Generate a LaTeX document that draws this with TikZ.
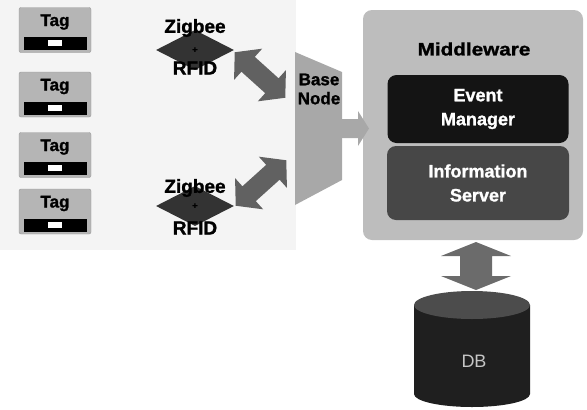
\documentclass[tikz,border=0pt]{standalone}
\usepackage{fontspec}
\setmainfont{Liberation Sans}[BoldFeatures={FakeBold=1.2}]
\usetikzlibrary{shapes.geometric}
\begin{document}
\begin{tikzpicture}[x=1pt,y=-1pt,
  lbl/.style={font=\fontsize{18}{19}\selectfont\bfseries, inner sep=0pt},
  whitelbl/.style={font=\fontsize{18}{24}\selectfont\bfseries, text=white, align=center, inner sep=0pt},
  tagbox/.style={draw=gray!80, fill=gray!58, rounded corners=2pt,
    minimum width=72pt, minimum height=45pt, inner sep=0pt},
  radio/.style={diamond, aspect=1.9, fill=black!80, minimum width=78pt,
    minimum height=40pt, inner sep=0pt},
  arrowfill/.style={fill=black!62},
  panel/.style={rounded corners=9pt, inner sep=0pt}]
\useasboundingbox (0,0) rectangle (587,410);

% sensing area behind the tags
\fill[gray!9] (0,0) rectangle (296,250);

% tags
\foreach \i/\y in {1/30,2/94.5,3/155,4/211.5}{
  \node[tagbox] (tag\i) at (55,\y) {};
  \node[lbl, font=\fontsize{17}{19}\selectfont\bfseries] at (55,\y-8) {Tag};
  \fill[black] (24,\y+7) rectangle (87,\y+20);
  \fill[white] (48,\y+10) rectangle (62,\y+16);
}

% Zigbee + RFID readers
\node[radio] (r1) at (195,50) {};
\node[font=\small\bfseries, inner sep=0pt] at (r1) {+};
\node[lbl, font=\fontsize{19}{20}\selectfont\bfseries] at (195,28) {Zigbee};
\node[lbl, font=\fontsize{19}{20}\selectfont\bfseries] at (195,68) {RFID};

\node[radio] (r2) at (195,206) {};
\node[font=\small\bfseries, inner sep=0pt] at (r2) {+};
\node[lbl, font=\fontsize{19}{20}\selectfont\bfseries] at (195,188) {Zigbee};
\node[lbl, font=\fontsize{19}{20}\selectfont\bfseries] at (195,228) {RFID};

% links between readers and base node
\begin{scope}[shift={(260,75)},rotate=-42]
  \fill[arrowfill] (-34,0) -- (-16,21) -- (-16,10) -- (16,10) -- (16,21) -- (34,0)
    -- (16,-21) -- (16,-10) -- (-16,-10) -- (-16,-21) -- cycle;
\end{scope}
\begin{scope}[shift={(261,183)},rotate=42]
  \fill[arrowfill] (-34,0) -- (-16,21) -- (-16,10) -- (16,10) -- (16,21) -- (34,0)
    -- (16,-21) -- (16,-10) -- (-16,-10) -- (-16,-21) -- cycle;
\end{scope}

% base node
\fill[gray!68] (295,52) -- (342,72) -- (342,180) -- (295,205) -- cycle;
\node[lbl, align=center, font=\fontsize{17}{19}\selectfont\bfseries] (base) at (319,89) {Base\\Node};

% middleware
\node[panel, fill=gray!52, minimum width=220pt, minimum height=230pt] (mw) at (473,125) {};
\node[lbl, xscale=1.15] at (474,49) {Middleware};
\node[panel, fill=black!92, minimum width=181pt, minimum height=68pt] (em) at (478,109) {};
\node[whitelbl] at (em) {Event\\Manager};
\node[panel, fill=black!72, minimum width=182pt, minimum height=74pt] (is) at (478,183) {};
\node[whitelbl] at (is) {Information\\Server};

% base node to middleware
\fill[gray!68] (341,119) -- (358,119) -- (358,111) -- (369,128.5) -- (358,146)
  -- (358,138) -- (341,138) -- cycle;

% middleware to database
\begin{scope}[shift={(476,266)},rotate=90]
  \fill[fill=black!58] (-24,0) -- (-10,35) -- (-10,16) -- (10,16) -- (10,35) -- (24,0)
    -- (10,-35) -- (10,-16) -- (-10,-16) -- (-10,-35) -- cycle;
\end{scope}

% database
\fill[black!88] (414,305) -- (414,394) arc[start angle=180, end angle=360, x radius=58, y radius=-13]
  -- (530,305) -- cycle;
\fill[black!70] (472,305) ellipse[x radius=58, y radius=14];
\node[font=\fontsize{18}{19}\selectfont, text=gray!45, inner sep=0pt] (db) at (474,361) {DB};
\end{tikzpicture}
\end{document}
